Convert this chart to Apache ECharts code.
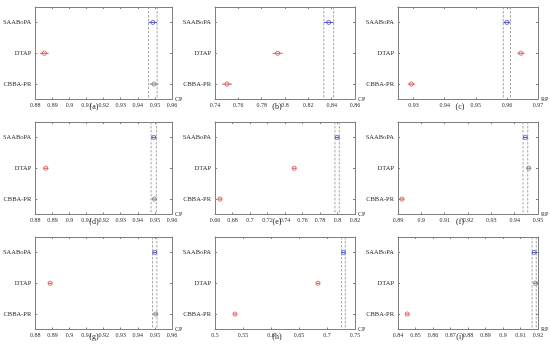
<!DOCTYPE html>
<html>
<head>
<meta charset="utf-8">
<script src="https://cdn.jsdelivr.net/npm/echarts@6/dist/echarts.min.js"></script>
<style>html,body{margin:0;padding:0;background:#fff;}#c{width:550px;height:350px;}</style>
</head>
<body>
<div id="c"></div>
<script>
// ---------- data ----------
const categories = ['SAABoPA', 'DTAP', 'CBBA-PR'];
const panelLabels = ['(a)', '(b)', '(c)', '(d)', '(e)', '(f)', '(g)', '(h)', '(i)'];
const metricNames = ['CP', 'CP', 'RP', 'CP', 'CP', 'RP', 'CP', 'CP', 'RP'];

// group means (SAABoPA, DTAP, CBBA-PR) per panel
const means_a = [0.9488, 0.8853, 0.9495];
const means_b = [0.8375, 0.7937, 0.7503];
const means_c = [0.9600, 0.9645, 0.9293];
const means_d = [0.9493, 0.8861, 0.9497];
const means_e = [0.7996, 0.7506, 0.6657];
const means_f = [0.9446, 0.9460, 0.8917];
const means_g = [0.9499, 0.8887, 0.9505];
const means_h = [0.7294, 0.6839, 0.5357];
const means_i = [0.9178, 0.9186, 0.8453];

// comparison-interval half widths per panel
const halfWidths = [0.0025, 0.0042, 0.00115, 0.00155, 0.0025, 0.0010, 0.0013, 0.0033, 0.0012];

// group status per panel: selected / significantly different / not different
const status_a = ['selected', 'different', 'same'];
const status_b = ['selected', 'different', 'different'];
const status_c = ['selected', 'different', 'different'];
const status_d = ['selected', 'different', 'same'];
const status_e = ['selected', 'different', 'different'];
const status_f = ['selected', 'same', 'different'];
const status_g = ['selected', 'different', 'same'];
const status_h = ['selected', 'different', 'different'];
const status_i = ['selected', 'same', 'different'];

// x-axis ranges and tick labels
const xMins = [0.88, 0.74, 0.925, 0.88, 0.66, 0.89, 0.88, 0.50, 0.84];
const xMaxs = [0.96, 0.86, 0.97, 0.96, 0.82, 0.95, 0.96, 0.75, 0.92];
const ticks_a = [0.88, 0.89, 0.90, 0.91, 0.92, 0.93, 0.94, 0.95, 0.96];
const ticks_b = [0.74, 0.76, 0.78, 0.80, 0.82, 0.84, 0.86];
const ticks_c = [0.93, 0.94, 0.95, 0.96, 0.97];
const ticks_d = [0.88, 0.89, 0.90, 0.91, 0.92, 0.93, 0.94, 0.95, 0.96];
const ticks_e = [0.66, 0.68, 0.70, 0.72, 0.74, 0.76, 0.78, 0.80, 0.82];
const ticks_f = [0.89, 0.90, 0.91, 0.92, 0.93, 0.94, 0.95];
const ticks_g = [0.88, 0.89, 0.90, 0.91, 0.92, 0.93, 0.94, 0.95, 0.96];
const ticks_h = [0.50, 0.55, 0.60, 0.65, 0.70, 0.75];
const ticks_i = [0.84, 0.85, 0.86, 0.87, 0.88, 0.89, 0.90, 0.91, 0.92];

// ---------- build ----------
const allMeans = [means_a, means_b, means_c, means_d, means_e, means_f, means_g, means_h, means_i];
const allStatus = [status_a, status_b, status_c, status_d, status_e, status_f, status_g, status_h, status_i];
const allTicks = [ticks_a, ticks_b, ticks_c, ticks_d, ticks_e, ticks_f, ticks_g, ticks_h, ticks_i];

const colorOf = { selected: '#5050d0', different: '#d85050', same: '#7a7a7a' };
const FONT = 'Liberation Serif';
const colLeft = [32, 215, 398];
const rowTop = [7, 122, 237];
const boxW = 140, boxH = 92.5;
const fmt = v => String(+v.toFixed(4));
const frameCol = '#808080';

const grids = [], xAxes = [], yAxes = [], series = [], titles = [];

for (let p = 0; p < 9; p++) {
  const r = Math.floor(p / 3), c = p % 3;
  const left = colLeft[c], top = rowTop[r];
  grids.push({ left: left, top: top, width: boxW, height: boxH, show: false });
  const tickVals = allTicks[p];
  const axisLineStyle = { lineStyle: { color: frameCol, width: 1 } };
  xAxes.push({
    type: 'value', gridIndex: p, min: xMins[p], max: xMaxs[p], position: 'bottom',
    axisLine: { show: true, onZero: false, ...axisLineStyle },
    axisTick: { show: true, inside: true, length: 2, customValues: tickVals, lineStyle: { color: frameCol } },
    axisLabel: { show: true, customValues: tickVals, formatter: fmt, fontSize: 6, fontFamily: FONT, color: '#333', margin: 3, showMinLabel: true, showMaxLabel: true, hideOverlap: false },
    splitLine: { show: false },
    name: metricNames[p], nameLocation: 'end', nameGap: 3,
    nameTextStyle: { fontSize: 6, fontFamily: FONT, color: '#333', verticalAlign: 'bottom', padding: [0, 0, -3, 0] }
  });
  xAxes.push({
    type: 'value', gridIndex: p, min: xMins[p], max: xMaxs[p], position: 'top',
    axisLine: { show: true, onZero: false, ...axisLineStyle },
    axisTick: { show: true, inside: true, length: 2, customValues: tickVals, lineStyle: { color: frameCol } },
    axisLabel: { show: false }, splitLine: { show: false }
  });
  yAxes.push({
    type: 'category', gridIndex: p, data: categories, inverse: true, position: 'left',
    axisLine: { show: true, onZero: false, ...axisLineStyle },
    axisTick: { show: true, inside: true, length: 2, alignWithLabel: true, lineStyle: { color: frameCol } },
    axisLabel: { fontSize: 6.5, fontFamily: FONT, color: '#333', margin: 4 },
    splitLine: { show: false }
  });
  yAxes.push({
    type: 'category', gridIndex: p, data: categories, inverse: true, position: 'right',
    axisLine: { show: true, onZero: false, ...axisLineStyle },
    axisTick: { show: true, inside: true, length: 2, alignWithLabel: true, lineStyle: { color: frameCol } },
    axisLabel: { show: false }, splitLine: { show: false }
  });

  const hw = halfWidths[p];
  const means = allMeans[p];
  const st = allStatus[p];
  const selIdx = st.indexOf('selected');

  // vertical reference lines at the selected group's interval
  series.push({
    type: 'custom', xAxisIndex: 2 * p, yAxisIndex: 2 * p, silent: true,
    data: [[means[selIdx] - hw], [means[selIdx] + hw]],
    encode: { x: 0 },
    renderItem: (params, api) => {
      const cs = params.coordSys;
      const x = api.coord([api.value(0), 0])[0];
      return { type: 'line', shape: { x1: x, y1: cs.y, x2: x, y2: cs.y + cs.height },
        style: { stroke: '#909090', lineWidth: 0.8, lineDash: [2.5, 1.5] } };
    },
    z: 1
  });

  // error bars with mean markers
  series.push({
    type: 'custom', xAxisIndex: 2 * p, yAxisIndex: 2 * p, silent: true,
    data: means.map((m, i) => ({ value: [m, i, m - hw, m + hw], itemStyle: { color: colorOf[st[i]] } })),
    encode: { x: [0, 2, 3], y: 1 },
    renderItem: (params, api) => {
      const ctr = api.coord([api.value(0), api.value(1)]);
      const lo = api.coord([api.value(2), api.value(1)]);
      const hi = api.coord([api.value(3), api.value(1)]);
      const col = api.visual('color');
      return { type: 'group', children: [
        { type: 'line', shape: { x1: lo[0], y1: lo[1], x2: hi[0], y2: hi[1] }, style: { stroke: col, lineWidth: 1 } },
        { type: 'circle', shape: { cx: ctr[0], cy: ctr[1], r: 2.1 }, style: { fill: 'none', stroke: col, lineWidth: 0.8 } }
      ] };
    },
    z: 3
  });

  titles.push({
    text: panelLabels[p], left: left + 62, top: top + boxH + 3, textAlign: 'center',
    textStyle: { fontSize: 8, fontFamily: FONT, color: '#222', fontWeight: 'normal' }, padding: 0
  });
}

const chart = echarts.init(document.getElementById('c'), null, { renderer: 'canvas' });
chart.setOption({
  animation: false,
  backgroundColor: '#fff',
  title: titles,
  grid: grids,
  xAxis: xAxes,
  yAxis: yAxes,
  series: series
});
</script>
</body>
</html>
